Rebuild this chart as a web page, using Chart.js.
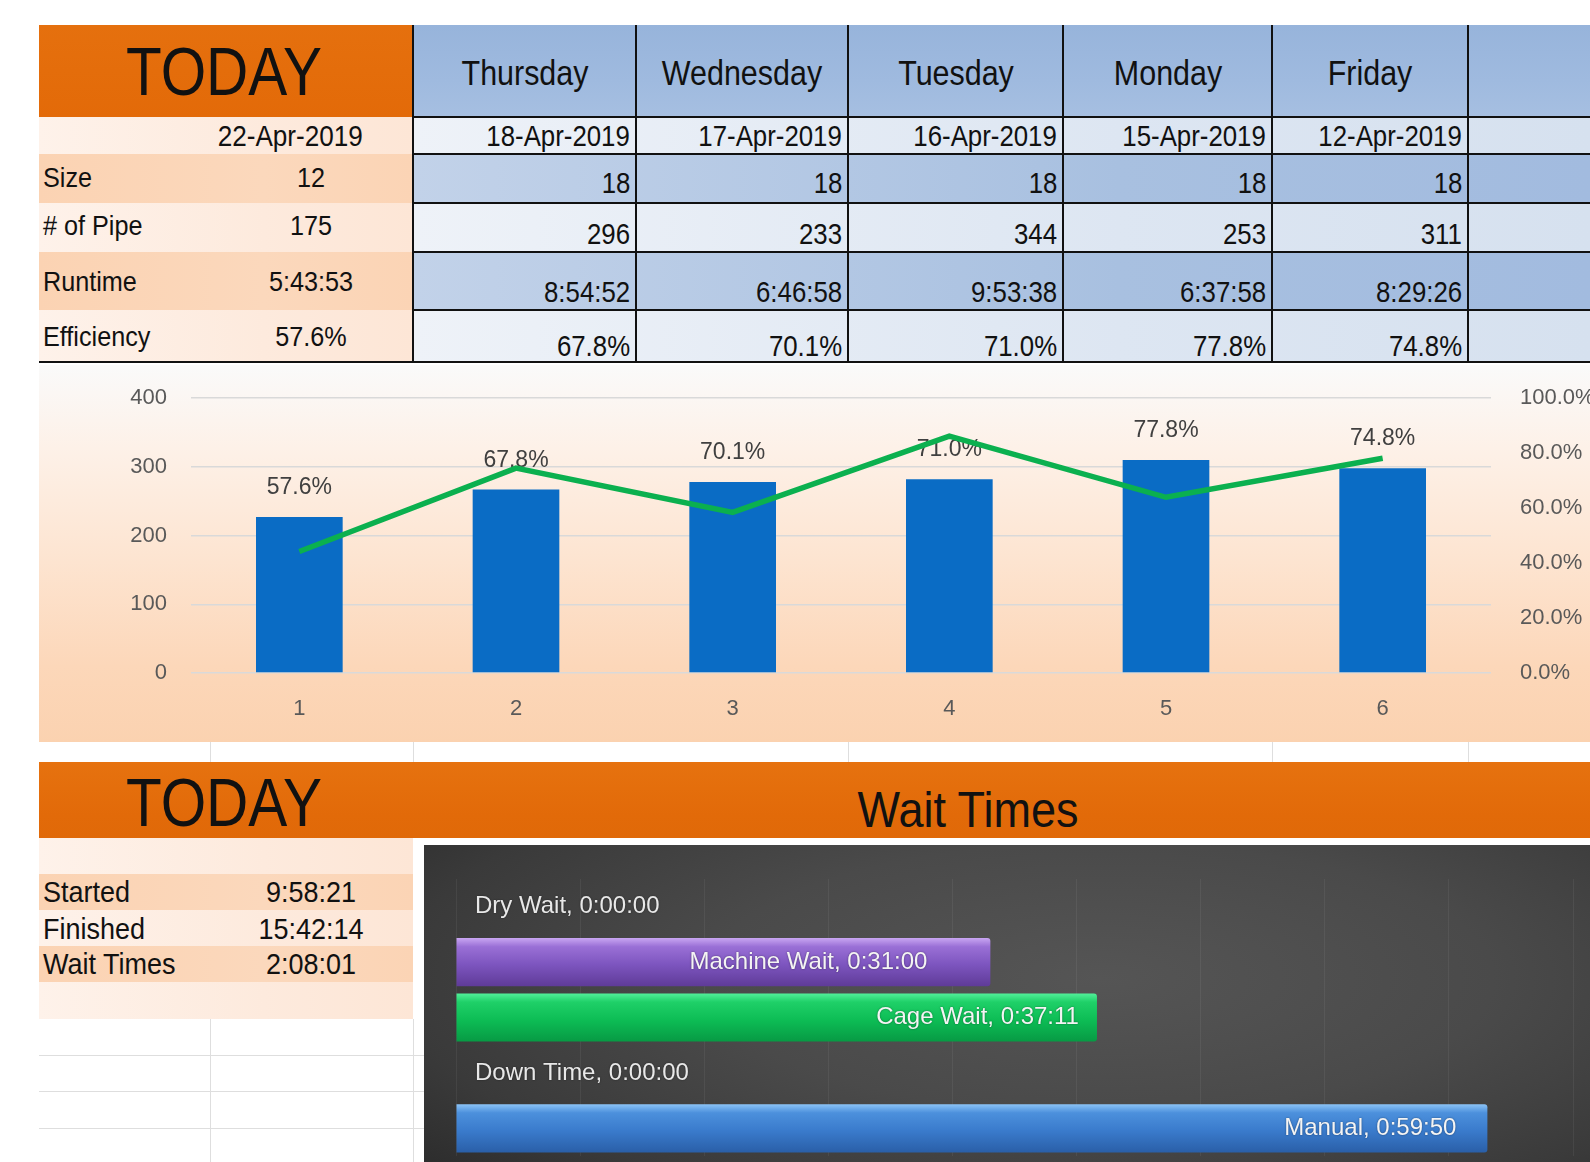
<!DOCTYPE html>
<html>
<head>
<meta charset="utf-8">
<script src="https://cdn.jsdelivr.net/npm/chart.js@4.4.1/dist/chart.umd.min.js"></script>
<style>
  html, body { margin: 0; padding: 0; width: 1590px; height: 1162px; overflow: hidden; background: #fff; }
  body { position: relative; font-family: "Liberation Sans", Arial, sans-serif; color: #111; }
  .box { position: absolute; }
  .t { position: absolute; white-space: nowrap; line-height: 1; }
  .line { position: absolute; background: #111; }
  .faint { position: absolute; background: #dedede; }
</style>
</head>
<body>
<div class="box" id="chart1Box" style="left:39px;top:365px;width:1551px;height:377px;
  background:linear-gradient(to bottom,#fafafa 0%,#fdf1e8 22%,#fde5d2 50%,#fcd7b9 80%,#fbd2b0 100%);">
  <canvas id="effChart"></canvas>
</div>
<div class="box" id="chart2Box" style="left:424px;top:845px;width:1166px;height:317px;
  background:radial-gradient(ellipse 75% 95% at 58% 42%,#555555 0%,#4a4a4a 45%,#3a3a3a 80%,#2c2c2c 100%);">
  <canvas id="waitChart"></canvas>
</div>
<script>
"use strict";

// table data
const todayDate = "22-Apr-2019";
const rowLabels = ["Size", "# of Pipe", "Runtime", "Efficiency"];
const todayValues = ["12", "175", "5:43:53", "57.6%"];
const dayNames = ["Thursday", "Wednesday", "Tuesday", "Monday", "Friday"];
const dayDates = ["18-Apr-2019", "17-Apr-2019", "16-Apr-2019", "15-Apr-2019", "12-Apr-2019"];
const daySizes = ["18", "18", "18", "18", "18"];
const dayPipes = ["296", "233", "344", "253", "311"];
const dayRuntimes = ["8:54:52", "6:46:58", "9:53:38", "6:37:58", "8:29:26"];
const dayEfficiency = ["67.8%", "70.1%", "71.0%", "77.8%", "74.8%"];

// chart 1 data
const chartLabels = ["1", "2", "3", "4", "5", "6"];
const pipeBars = [227, 267, 278, 282, 310, 298];
const effLine = [0.442, 0.745, 0.584, 0.861, 0.639, 0.781];
const barLabels = ["57.6%", "67.8%", "70.1%", "71.0%", "77.8%", "74.8%"];

// wait times
const summaryLabels = ["Started", "Finished", "Wait Times"];
const summaryValues = ["9:58:21", "15:42:14", "2:08:01"];
const waitCategories = ["Dry Wait", "Machine Wait", "Cage Wait", "Down Time", "Manual"];
const waitTimes = ["0:00:00", "0:31:00", "0:37:11", "0:00:00", "0:59:50"];

const W = 1590;

function rect(x, y, w, h, bg, cls) {
  const d = document.createElement("div");
  d.className = cls || "box";
  d.style.left = x + "px"; d.style.top = y + "px";
  d.style.width = w + "px"; d.style.height = h + "px";
  if (bg) d.style.background = bg;
  document.body.appendChild(d);
  return d;
}

// anchor: "l", "c", "r"; y is the vertical centre of the caps
function txt(s, x, y, size, anchor, sx, color) {
  const d = document.createElement("div");
  d.className = "t";
  d.textContent = s;
  d.style.fontSize = size + "px";
  d.style.top = y + "px";
  if (color) d.style.color = color;
  sx = sx || 1;
  if (anchor === "c") {
    d.style.left = x + "px";
    d.style.transformOrigin = "center center";
    d.style.transform = `translate(-50%,-50%) scaleX(${sx})`;
  } else if (anchor === "r") {
    d.style.right = (W - x) + "px";
    d.style.transformOrigin = "right center";
    d.style.transform = `translateY(-50%) scaleX(${sx})`;
  } else {
    d.style.left = x + "px";
    d.style.transformOrigin = "left center";
    d.style.transform = `translateY(-50%) scaleX(${sx})`;
  }
  document.body.appendChild(d);
  return d;
}

// ---------- top table ----------
const rowsY = [117, 154, 203, 252, 310, 362];
const colX = [413, 636, 848, 1063, 1272, 1468, 1590];
const blueDark = "linear-gradient(to right,#c2d2e9,#a8c0e0 60%,#a2bbdf)";
const blueLight = "linear-gradient(to right,#eef2f8,#dde6f2 60%,#d6e1ef)";
const peachDark = "linear-gradient(to right,#fbd3b3,#fbd8bc 60%,#fbd4b5)";
const peachLight = "linear-gradient(to right,#fef2ea,#fdeadd 60%,#fde6d6)";

rect(39, 25, 374, 92, "linear-gradient(to bottom,#e5700e,#e36a08)");
rect(413, 25, W - 413, 92, "linear-gradient(to bottom,#97b4db,#9fbadf 60%,#a6bfe1)");
for (let r = 0; r < 5; r++) {
  const y0 = rowsY[r], h = rowsY[r + 1] - y0;
  rect(39, y0, 374, h, r % 2 ? peachDark : peachLight);
  rect(413, y0, W - 413, h, r % 2 ? blueDark : blueLight);
}
// borders
colX.slice(0, 6).forEach(x => rect(x - 1, 25, 2, 338, null, "line"));
rowsY.slice(0, 5).forEach(y => rect(413, y - 1, W - 413, 2, null, "line"));
rect(39, 361, W - 39, 2, null, "line");

txt("TODAY", 224, 71, 68, "c", 0.86);
txt(todayDate, 363, 136, 30, "r", 0.87);
const leftY = [178, 226, 282, 337];
rowLabels.forEach((s, i) => txt(s, 43, leftY[i], 28, "l", 0.9));
todayValues.forEach((s, i) => txt(s, 311, leftY[i], 28, "c", 0.9));

const valY = [136, 183, 234, 292, 346];
dayNames.forEach((name, i) => {
  const cx = (colX[i] + colX[i + 1]) / 2, rx = colX[i + 1] - 6;
  txt(name, cx, 72, 35, "c", 0.87);
  txt(dayDates[i], rx, valY[0], 30, "r", 0.86);
  txt(daySizes[i], rx, valY[1], 30, "r", 0.86);
  txt(dayPipes[i], rx, valY[2], 30, "r", 0.86);
  txt(dayRuntimes[i], rx, valY[3], 30, "r", 0.86);
  txt(dayEfficiency[i], rx, valY[4], 30, "r", 0.86);
});

// faint sheet gridlines in the gaps
[210, 413, 848, 1272, 1468].forEach(x => rect(x, 742, 1, 20, null, "faint"));

// ---------- bottom header + summary ----------
rect(39, 762, W - 39, 76, "linear-gradient(to bottom,#e6720f,#e26a09 70%,#e06908)");
txt("TODAY", 224, 802, 68, "c", 0.86);
txt("Wait Times", 968, 810, 50, "c", 0.9);
const sumBands = [838, 874, 910, 946, 982, 1019];
for (let r = 0; r < 5; r++) {
  rect(39, sumBands[r], 374, sumBands[r + 1] - sumBands[r], r % 2 ? peachDark : peachLight);
}
const sumY = [892, 929, 964];
summaryLabels.forEach((s, i) => txt(s, 43, sumY[i], 30, "l", 0.9));
summaryValues.forEach((s, i) => txt(s, 311, sumY[i], 30, "c", 0.9));
[1055, 1091, 1128].forEach(y => rect(39, y, 385, 1, null, "faint"));
[210, 413].forEach(x => rect(x, 1019, 1, 143, null, "faint"));

// ---------- chart 1 : pipes + efficiency ----------
const barLabelPlugin = {
  id: "barLabels",
  afterDatasetDraw(chart, args) {
    if (args.index !== 0) return;
    const ctx = chart.ctx;
    ctx.save();
    ctx.font = "23px 'Liberation Sans', Arial, sans-serif";
    ctx.fillStyle = "#404040";
    ctx.textAlign = "center";
    ctx.textBaseline = "middle";
    args.meta.data.forEach((el, i) => ctx.fillText(barLabels[i], el.x, el.y - 29));
    ctx.restore();
  }
};

const tickFont = { family: "'Liberation Sans', Arial, sans-serif", size: 22 };

// tick padding on a vertical axis also pads its top; drop that
const fitSide = w => s => { s.width = w; s.paddingTop = 0; s.paddingBottom = 0; };

new Chart(document.getElementById("effChart"), {
  data: {
    labels: chartLabels,
    datasets: [
      {
        type: "bar",
        data: pipeBars,
        backgroundColor: "#0a6cc5",
        barPercentage: 0.4,
        categoryPercentage: 1,
        yAxisID: "y",
        order: 1,
      },
      {
        type: "line",
        data: effLine,
        borderColor: "#0bb04f",
        borderWidth: 5.5,
        pointRadius: 0,
        tension: 0,
        yAxisID: "y1",
        order: 0,
      },
    ],
  },
  options: {
    responsive: true,
    maintainAspectRatio: false,
    animation: false,
    layout: { padding: { top: 33, left: 0, right: 0, bottom: 0 } },
    plugins: { legend: { display: false }, tooltip: { enabled: false } },
    scales: {
      x: {
        grid: { display: false },
        border: { display: false },
        ticks: { font: tickFont, color: "#595959", padding: 15 },
        afterFit: s => { s.height = 69; },
      },
      y: {
        position: "left",
        min: 0, max: 400,
        ticks: { stepSize: 100, font: tickFont, color: "#595959", padding: 24 },
        grid: { color: "#d9d9d9", lineWidth: 1.5, drawTicks: false },
        border: { display: false },
        afterFit: fitSide(152),
      },
      y1: {
        position: "right",
        min: 0, max: 1,
        ticks: {
          stepSize: 0.2, font: tickFont, color: "#595959", padding: 29,
          callback: v => (v * 100).toFixed(1) + "%",
        },
        grid: { display: false, drawTicks: false },
        border: { display: false },
        afterFit: fitSide(99),
      },
    },
  },
  plugins: [barLabelPlugin],
});

// ---------- chart 2 : wait times ----------
function toMinutes(t) {
  const p = t.split(":").map(Number);
  return p[0] * 60 + p[1] + p[2] / 60;
}
const waitMinutes = waitTimes.map(toMinutes);

const barStops = [
  ["#c9a6f2", "#9a70d6", "#7d55bf", "#5f3b98"],   // dry (zero)
  ["#c9a6f2", "#9a70d6", "#7d55bf", "#5f3b98"],
  ["#52f09a", "#1fd068", "#0dbd55", "#079a44"],
  ["#8cc4f7", "#4c90dc", "#3a7bcc", "#2a5fa8"],
  ["#8cc4f7", "#4c90dc", "#3a7bcc", "#2a5fa8"],
];
function barFill(c) {
  const chart = c.chart, ys = chart.scales.y;
  if (c.dataIndex === undefined || !ys || !chart.chartArea) return barStops[1][2];
  const mid = ys.getPixelForValue(c.dataIndex);
  const half = (ys.height / waitCategories.length) * 0.87 / 2;
  const g = chart.ctx.createLinearGradient(0, mid - half, 0, mid + half);
  const s = barStops[c.dataIndex];
  g.addColorStop(0, s[0]);
  g.addColorStop(0.18, s[1]);
  g.addColorStop(0.55, s[2]);
  g.addColorStop(1, s[3]);
  return g;
}

const labelPad = [0, 63, 18, 0, 31];
const waitLabelPlugin = {
  id: "waitLabels",
  afterDatasetsDraw(chart) {
    const ctx = chart.ctx;
    const meta = chart.getDatasetMeta(0);
    ctx.save();
    ctx.font = "24px 'Liberation Sans', Arial, sans-serif";
    ctx.textBaseline = "middle";
    ctx.shadowColor = "rgba(0,0,0,0.45)";
    ctx.shadowBlur = 2;
    meta.data.forEach((el, i) => {
      const s = waitCategories[i] + ", " + waitTimes[i];
      if (waitMinutes[i] > 0) {
        ctx.fillStyle = "#f4f4f4";
        ctx.textAlign = "right";
        ctx.fillText(s, el.x - labelPad[i], el.y);
      } else {
        ctx.fillStyle = "#e8e8e8";
        ctx.textAlign = "left";
        ctx.fillText(s, el.base + 19, el.y);
      }
    });
    ctx.restore();
  }
};

new Chart(document.getElementById("waitChart"), {
  type: "bar",
  data: {
    labels: waitCategories,
    datasets: [{
      data: waitMinutes,
      backgroundColor: barFill,
      borderWidth: 0,
      borderRadius: 3,
      borderSkipped: "start",
      barPercentage: 0.87,
      categoryPercentage: 1,
    }],
  },
  options: {
    indexAxis: "y",
    responsive: true,
    maintainAspectRatio: false,
    animation: false,
    layout: { padding: { top: 34, left: 32, right: 17, bottom: 6 } },
    plugins: { legend: { display: false }, tooltip: { enabled: false } },
    scales: {
      x: {
        min: 0, max: 64.8,
        ticks: { display: false, stepSize: 7.2 },
        grid: { color: "rgba(255,255,255,0.06)", lineWidth: 1, drawTicks: false },
        border: { display: false },
        afterFit: s => { s.height = 0; },
      },
      y: { display: false },
    },
  },
  plugins: [waitLabelPlugin],
});
</script>
</body>
</html>
